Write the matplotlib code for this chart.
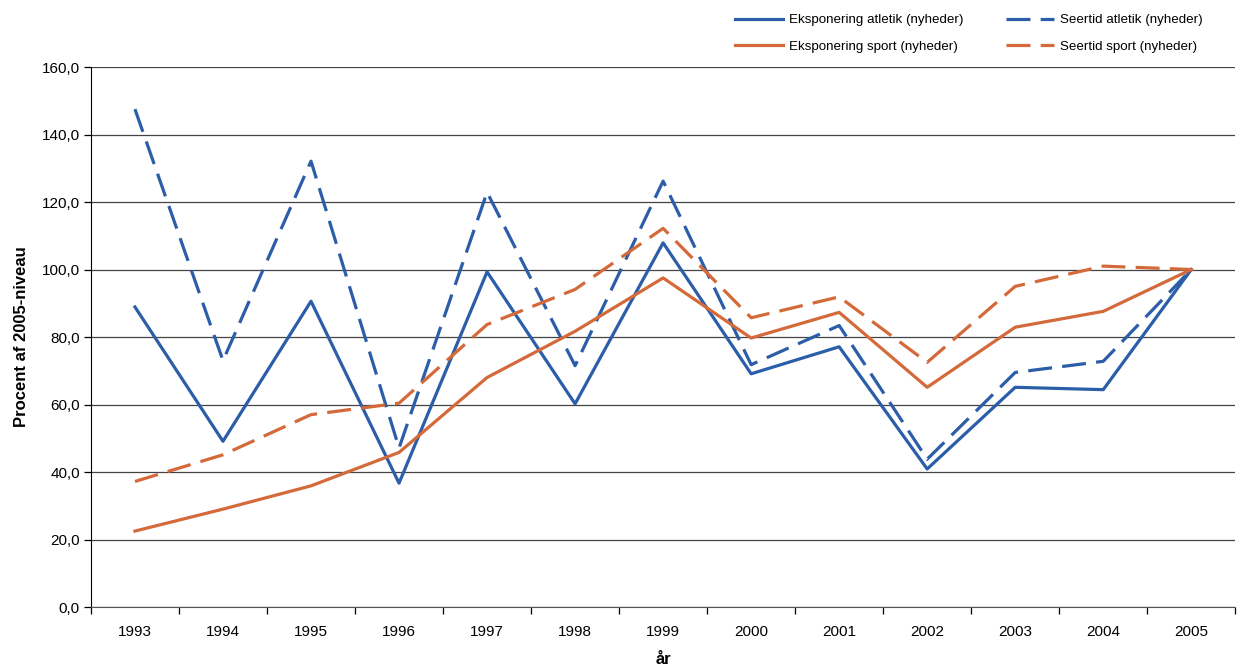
import matplotlib.pyplot as plt
from matplotlib.ticker import FixedLocator, FuncFormatter

plt.rcParams['font.family'] = ['Liberation Sans', 'DejaVu Sans']

years = [1993, 1994, 1995, 1996, 1997, 1998, 1999, 2000, 2001, 2002, 2003, 2004, 2005]

# values (percent of 2005 level)
ekspo_atletik = [88.9, 49.1, 90.6, 36.7, 99.3, 60.2, 107.9, 69.1, 77.1, 40.9, 65.1, 64.4, 100.0]
seer_atletik = [147.5, 73.0, 132.1, 47.1, 122.9, 71.5, 126.2, 71.8, 83.4, 43.8, 69.5, 72.8, 100.0]
ekspo_sport = [22.5, 29.0, 35.9, 45.8, 68.0, 81.7, 97.5, 79.7, 87.3, 65.1, 82.9, 87.6, 100.0]
seer_sport = [37.2, 45.1, 57.0, 60.4, 83.7, 94.1, 112.2, 85.7, 91.9, 72.5, 95.0, 101.0, 100.0]

blue = '#2B5DA8'
orange = '#D4693A'

fig = plt.figure(figsize=(12.39, 6.68), dpi=100)
ax = fig.add_axes([0.0734, 0.0913, 0.9236, 0.8084])

x = list(range(len(years)))
lw = 2.3
ax.plot(x, ekspo_atletik, color=blue, lw=lw, label='Eksponering atletik (nyheder)')
ax.plot(x, seer_atletik, color=blue, lw=lw, dashes=(7.5, 3.2), label='Seertid atletik (nyheder)')
ax.plot(x, ekspo_sport, color=orange, lw=lw, label='Eksponering sport (nyheder)')
ax.plot(x, seer_sport, color=orange, lw=lw, dashes=(7.5, 3.2), label='Seertid sport (nyheder)')

ax.set_xlim(-0.5, len(years) - 0.5)
ax.set_ylim(0, 160)
ax.set_yticks(range(0, 161, 20))
ax.yaxis.set_major_formatter(FuncFormatter(lambda v, p: f'{v:.1f}'.replace('.', ',')))
ax.grid(axis='y', color='#444444', lw=0.9)
ax.set_axisbelow(True)

# category labels centred, tick marks between categories
ax.set_xticks(x)
ax.set_xticklabels([str(y) for y in years])
ax.xaxis.set_minor_locator(FixedLocator([i - 0.5 for i in range(len(years) + 1)]))
ax.tick_params(axis='x', which='major', length=0, pad=13, labelsize=11)
ax.tick_params(axis='x', which='minor', length=5, width=0.9, direction='out')
ax.tick_params(axis='y', length=5, width=0.9, labelsize=11, pad=3)

for s in ['top', 'right']:
    ax.spines[s].set_visible(False)
ax.spines['left'].set_color('black')
ax.spines['bottom'].set_color('#555555')

ax.set_ylabel('Procent af 2005-niveau', fontsize=12, fontweight='bold', labelpad=9)
ax.set_xlabel('år', fontsize=12, fontweight='bold', labelpad=9)

h, l = ax.get_legend_handles_labels()
order = [0, 2, 1, 3]
fig.legend([h[i] for i in order], [l[i] for i in order], ncol=2, frameon=False,
           fontsize=9.6, loc='upper left', bbox_to_anchor=(735 / 1239, 1 - 14 / 668),
           borderpad=0, borderaxespad=0,
           handlelength=3.6, handletextpad=0.45, columnspacing=3.2, labelspacing=1.05)

fig.savefig('out.png', dpi=100)
